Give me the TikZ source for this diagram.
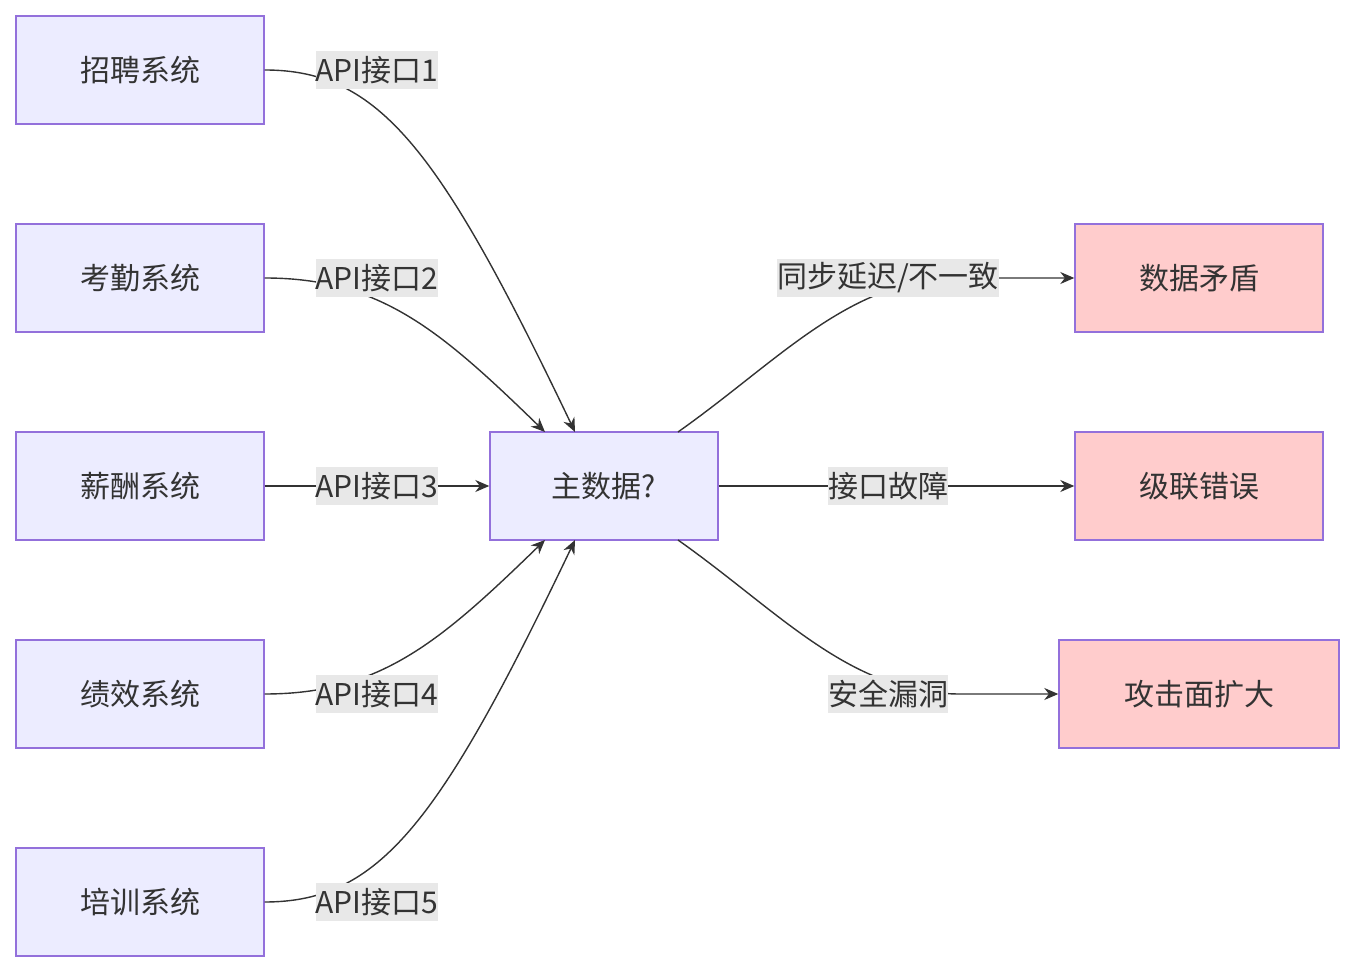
\documentclass[tikz,border=0pt]{standalone}
\usepackage{fontspec}
\setmainfont{Noto Sans CJK SC}
\usetikzlibrary{arrows.meta}
\definecolor{bfill}{HTML}{ECECFF}
\definecolor{bdraw}{HTML}{9370DB}
\definecolor{rfill}{HTML}{FFCCCC}
\definecolor{lbg}{HTML}{E8E8E8}
\definecolor{ln}{HTML}{333333}
\begin{document}
\begin{tikzpicture}[x=0.5pt,y=-0.5pt,
  box/.style={draw=bdraw,fill=bfill,line width=0.7pt,minimum width=124pt,minimum height=54pt,inner sep=0pt,font=\fontsize{15}{18}\selectfont,text=ln},
  rbox/.style={box,fill=rfill},
  lab/.style={fill=lbg,inner sep=0pt,minimum height=19pt,font=\fontsize{15}{18}\selectfont,text=ln},
  edge/.style={draw=ln,line width=0.7pt,-{Stealth[length=7pt,width=6pt]}}]
\useasboundingbox (0,0) rectangle (1354,972);
\node[box] (a1) at (140,70) {招聘系统};
\node[box] (a2) at (140,278) {考勤系统};
\node[box] (a3) at (140,486) {薪酬系统};
\node[box] (a4) at (140,694) {绩效系统};
\node[box] (a5) at (140,902) {培训系统};
\node[box,minimum width=114pt] (m) at (604,486) {主数据?};
\node[rbox] (r1) at (1199,278) {数据矛盾};
\node[rbox] (r2) at (1199,486) {级联错误};
\node[rbox,minimum width=140pt] (r3) at (1199,694) {攻击面扩大};
\coordinate (t1) at (575,432); \coordinate (t2) at (545,432);
\coordinate (b1) at (575,540); \coordinate (b2) at (545,540);
\coordinate (s1) at (678,432); \coordinate (s2) at (678,540);
\draw[edge] (a1.east) .. controls (380,70) and (440,150) .. (t1);
\draw[edge] (a2.east) .. controls (380,278) and (440,330) .. (t2);
\draw[edge] (a3.east) -- (m.west);
\draw[edge] (a4.east) .. controls (380,694) and (440,642) .. (b2);
\draw[edge] (a5.east) .. controls (380,902) and (440,822) .. (b1);
\draw[edge] (s1) .. controls (780,360) and (850,278) .. (960,278) -- (r1.west);
\draw[edge] (m.east) -- (r2.west);
\draw[edge] (s2) .. controls (780,612) and (850,694) .. (960,694) -- (r3.west);
\node[lab] (l1) at (377,70) {API接口1};
\node[lab] (l2) at (377,278) {API接口2};
\node[lab] (l3) at (377,486) {API接口3};
\node[lab] (l4) at (377,694) {API接口4};
\node[lab] (l5) at (377,902) {API接口5};
\node[lab] (k1) at (888,278) {同步延迟/不一致};
\node[lab] (k2) at (888,486) {接口故障};
\node[lab] (k3) at (888,694) {安全漏洞};
\end{tikzpicture}
\end{document}
